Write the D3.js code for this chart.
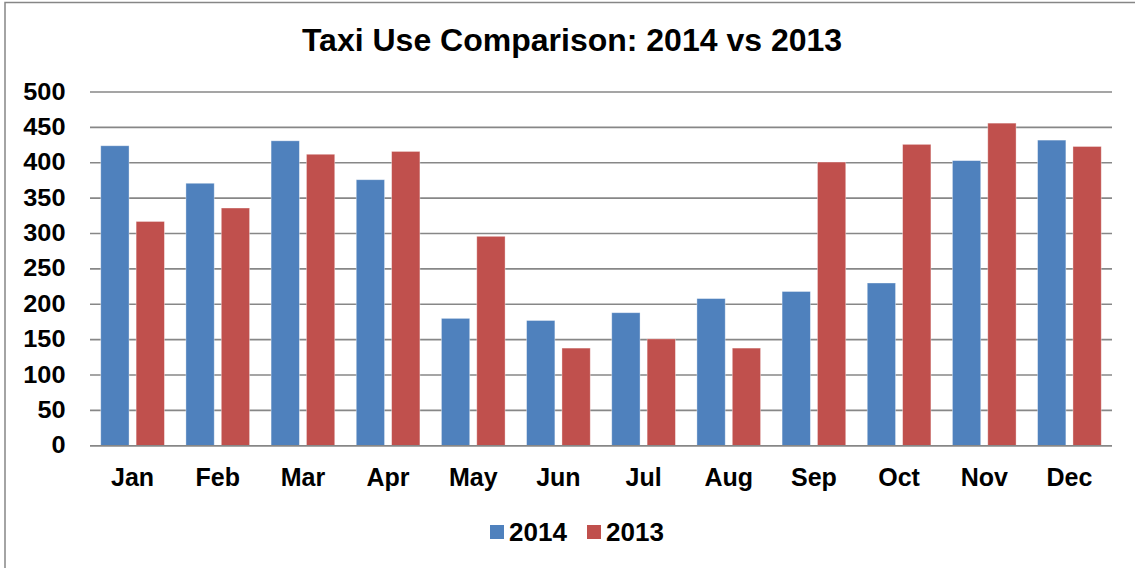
<!DOCTYPE html>
<html>
<head>
<meta charset="utf-8">
<script src="https://cdn.jsdelivr.net/npm/d3@7"></script>
<style>
  html, body { margin: 0; padding: 0; background: #fff; }
  svg { display: block; font-family: "Liberation Sans", Arial, sans-serif; }
</style>
</head>
<body>
<svg id="chart" width="1135" height="568"></svg>
<script>
// Monthly taxi use, two years side by side
const months = ["Jan", "Feb", "Mar", "Apr", "May", "Jun", "Jul", "Aug", "Sep", "Oct", "Nov", "Dec"];
const series = ["2014", "2013"];
const values2014 = [424, 371, 431, 376, 180, 177, 188, 208, 218, 230, 403, 432];
const values2013 = [317, 336, 412, 416, 296, 138, 151, 138, 401, 426, 456, 423];
const yTicks = [0, 50, 100, 150, 200, 250, 300, 350, 400, 450, 500];
const colors = ["#4F81BD", "#C0504D"];

const svg = d3.select("#chart");
const W = 1135, H = 568;
const plot = { left: 90, right: 1112, top: 92, bottom: 445.7 };

// Outer chart frame (extends past the right and bottom edges)
svg.append("rect")
  .attr("x", 5).attr("y", 2.5)
  .attr("width", W + 20).attr("height", H + 20)
  .attr("fill", "#fff")
  .attr("stroke", "#868686").attr("stroke-width", 1.5);

// Title
svg.append("text")
  .attr("x", 572).attr("y", 51)
  .attr("text-anchor", "middle")
  .attr("font-size", 32).attr("font-weight", "bold")
  .attr("fill", "#000")
  .text("Taxi Use Comparison: 2014 vs 2013");

const x = d3.scaleBand().domain(months).range([plot.left, plot.right]).paddingInner(0).paddingOuter(0);
const y = d3.scaleLinear().domain([0, 500]).range([plot.bottom, plot.top]);

// Bars within each month: two bars with a small gap, wide outer spacing
const cat = x.bandwidth();
const barW = cat / 3.01;
const innerGap = barW * 0.25;
const outer = (cat - 2 * barW - innerGap) / 2;
const xs = d3.scaleOrdinal().domain(series).range([outer, outer + barW + innerGap]);

// Horizontal gridlines
svg.append("g")
  .selectAll("line")
  .data(yTicks)
  .join("line")
  .attr("x1", plot.left).attr("x2", plot.right)
  .attr("y1", d => y(d)).attr("y2", d => y(d))
  .attr("stroke", "#878787").attr("stroke-width", 1.6);

// Y-axis tick labels (slightly wide bold digits)
svg.append("g")
  .selectAll("g")
  .data(yTicks)
  .join("g")
  .attr("transform", d => `translate(65.5,${y(d) + 7.6}) scale(1.1,1)`)
  .append("text")
  .attr("text-anchor", "end")
  .attr("font-size", 23).attr("font-weight", "bold")
  .attr("fill", "#000")
  .text(d => d);

// Bars
const data = months.map((m, i) => ({ month: m, vals: [values2014[i], values2013[i]] }));
const groups = svg.append("g")
  .selectAll("g")
  .data(data)
  .join("g")
  .attr("transform", d => `translate(${x(d.month)},0)`);

groups.selectAll("rect")
  .data(d => d.vals.map((v, j) => ({ key: series[j], v, j })))
  .join("rect")
  .attr("x", d => xs(d.key))
  .attr("y", d => y(d.v))
  .attr("width", barW)
  .attr("height", d => y(0) - y(d.v))
  .attr("fill", d => colors[d.j])
  .attr("stroke", "rgba(255,255,255,0.45)")
  .attr("stroke-width", 0.8);

// Baseline redrawn over bar bottoms
svg.append("line")
  .attr("x1", plot.left).attr("x2", plot.right)
  .attr("y1", y(0)).attr("y2", y(0))
  .attr("stroke", "#878787").attr("stroke-width", 1.6);

// X-axis category labels
svg.append("g")
  .selectAll("text")
  .data(months)
  .join("text")
  .attr("x", d => x(d) + cat / 2)
  .attr("y", 485.5)
  .attr("text-anchor", "middle")
  .attr("font-size", 25).attr("font-weight", "bold")
  .attr("fill", "#000")
  .text(d => d);

// Legend
const legendItems = [
  { label: series[0], color: colors[0], x: 490 },
  { label: series[1], color: colors[1], x: 587 }
];
const lg = svg.append("g").selectAll("g").data(legendItems).join("g")
  .attr("transform", d => `translate(${d.x},525)`);
lg.append("rect")
  .attr("width", 14).attr("height", 14)
  .attr("fill", d => d.color);
lg.append("text")
  .attr("x", 19).attr("y", 15.7)
  .attr("font-size", 26).attr("font-weight", "bold")
  .attr("fill", "#000")
  .text(d => d.label);
</script>
</body>
</html>
